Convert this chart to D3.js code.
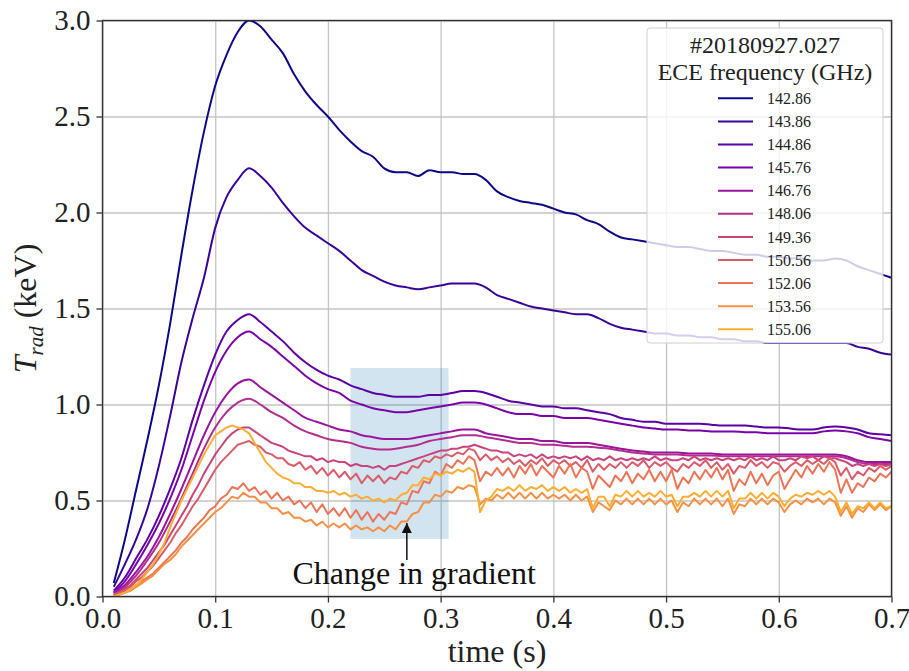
<!DOCTYPE html>
<html>
<head>
<meta charset="utf-8">
<script src="https://cdn.jsdelivr.net/npm/d3@7"></script>
<style>
  body { margin: 0; background: #fff; }
  svg { display: block; font-family: "Liberation Serif", "DejaVu Serif", serif; }
</style>
</head>
<body>
<svg id="chart" width="909" height="671"></svg>
<script>
// ECE radiation temperature traces, shot #20180927.027

const frequencies = ["142.86", "143.86", "144.86", "145.76", "146.76", "148.06",
                     "149.36", "150.56", "152.06", "153.56", "155.06"];
const xTicks = [0.0, 0.1, 0.2, 0.3, 0.4, 0.5, 0.6, 0.7];
const yTicks = [0.0, 0.5, 1.0, 1.5, 2.0, 2.5, 3.0];

// sample times: coarse grid 0.01..0.70 s, fine grid 0.010..0.700 s
const timeCoarse = d3.range(1, 71).map(k => k / 100);
const timeFine = d3.range(2, 141).map(k => k / 200);

// smoother channels, read on the coarse grid (keV)
const trad142_86 = [
  0.07, 0.30, 0.56, 0.82, 1.10, 1.42, 1.78, 2.12, 2.42, 2.66,
  2.82, 2.94, 3.00, 2.97, 2.90, 2.83, 2.72, 2.63, 2.56, 2.50,
  2.43, 2.37, 2.32, 2.29, 2.23, 2.21, 2.21, 2.19, 2.22, 2.21,
  2.21, 2.20, 2.20, 2.17, 2.11, 2.08, 2.06, 2.05, 2.04, 2.02,
  2.00, 1.99, 1.96, 1.94, 1.90, 1.87, 1.86, 1.85, 1.84, 1.83,
  1.82, 1.82, 1.81, 1.80, 1.80, 1.79, 1.78, 1.78, 1.77, 1.77,
  1.76, 1.76, 1.75, 1.75, 1.76, 1.75, 1.72, 1.70, 1.68, 1.66];
const trad143_86 = [
  0.05, 0.17, 0.30, 0.46, 0.68, 0.94, 1.22, 1.45, 1.66, 1.92,
  2.08, 2.17, 2.23, 2.19, 2.13, 2.05, 1.98, 1.92, 1.88, 1.84,
  1.80, 1.75, 1.70, 1.67, 1.64, 1.62, 1.61, 1.60, 1.61, 1.62,
  1.63, 1.63, 1.63, 1.61, 1.57, 1.55, 1.53, 1.51, 1.50, 1.49,
  1.48, 1.47, 1.47, 1.45, 1.42, 1.40, 1.39, 1.38, 1.37, 1.37,
  1.36, 1.36, 1.35, 1.35, 1.34, 1.34, 1.33, 1.33, 1.32, 1.32,
  1.32, 1.32, 1.32, 1.32, 1.32, 1.32, 1.30, 1.29, 1.27, 1.26];
const trad144_86 = [
  0.03, 0.10, 0.20, 0.30, 0.42, 0.56, 0.72, 0.92, 1.10, 1.26,
  1.38, 1.44, 1.47, 1.43, 1.38, 1.33, 1.27, 1.22, 1.18, 1.15,
  1.13, 1.10, 1.08, 1.06, 1.05, 1.04, 1.04, 1.04, 1.05, 1.05,
  1.06, 1.07, 1.07, 1.06, 1.04, 1.02, 1.01, 1.00, 0.99, 0.99,
  0.98, 0.98, 0.97, 0.96, 0.95, 0.93, 0.92, 0.91, 0.91, 0.90,
  0.90, 0.90, 0.90, 0.895, 0.89, 0.89, 0.89, 0.885, 0.88, 0.88,
  0.875, 0.87, 0.87, 0.88, 0.885, 0.88, 0.87, 0.85, 0.845, 0.84];
const trad145_76 = [
  0.02, 0.08, 0.17, 0.27, 0.38, 0.51, 0.66, 0.84, 1.02, 1.17,
  1.28, 1.35, 1.38, 1.34, 1.30, 1.25, 1.20, 1.15, 1.11, 1.08,
  1.06, 1.02, 1.00, 0.98, 0.97, 0.96, 0.96, 0.97, 0.98, 0.99,
  1.00, 1.01, 1.01, 1.00, 0.98, 0.96, 0.95, 0.95, 0.94, 0.94,
  0.93, 0.93, 0.93, 0.92, 0.91, 0.90, 0.89, 0.88, 0.875, 0.87,
  0.87, 0.865, 0.865, 0.86, 0.86, 0.86, 0.855, 0.855, 0.85, 0.85,
  0.85, 0.85, 0.85, 0.86, 0.865, 0.86, 0.85, 0.83, 0.82, 0.81];
const trad146_76 = [
  0.02, 0.06, 0.13, 0.21, 0.31, 0.43, 0.56, 0.70, 0.84, 0.96,
  1.05, 1.11, 1.13, 1.09, 1.05, 1.01, 0.97, 0.93, 0.91, 0.89,
  0.87, 0.86, 0.84, 0.83, 0.82, 0.82, 0.82, 0.83, 0.84, 0.85,
  0.86, 0.87, 0.87, 0.85, 0.84, 0.83, 0.82, 0.82, 0.81, 0.81,
  0.80, 0.80, 0.80, 0.79, 0.78, 0.77, 0.76, 0.755, 0.75, 0.75,
  0.75, 0.745, 0.745, 0.745, 0.74, 0.74, 0.74, 0.74, 0.74, 0.74,
  0.74, 0.74, 0.74, 0.74, 0.74, 0.73, 0.71, 0.70, 0.70, 0.70];
const trad148_06 = [
  0.01, 0.05, 0.11, 0.19, 0.28, 0.39, 0.51, 0.64, 0.77, 0.88,
  0.96, 1.01, 1.03, 1.00, 0.96, 0.93, 0.89, 0.86, 0.84, 0.82,
  0.81, 0.80, 0.78, 0.77, 0.765, 0.77, 0.78, 0.79, 0.81, 0.82,
  0.83, 0.84, 0.84, 0.83, 0.82, 0.81, 0.80, 0.80, 0.79, 0.79,
  0.785, 0.78, 0.78, 0.775, 0.77, 0.76, 0.75, 0.745, 0.74, 0.74,
  0.74, 0.735, 0.735, 0.735, 0.73, 0.73, 0.73, 0.73, 0.73, 0.73,
  0.73, 0.73, 0.73, 0.73, 0.73, 0.72, 0.70, 0.69, 0.69, 0.69];

// noisier channels, read on the fine grid (keV)
const trad149_36 = [
  0.01, 0.02, 0.04, 0.06, 0.09, 0.12, 0.15, 0.19, 0.23, 0.27,
  0.32, 0.37, 0.42, 0.47, 0.53, 0.58, 0.64, 0.69, 0.74, 0.78,
  0.82, 0.85, 0.87, 0.88, 0.88, 0.86, 0.84, 0.82, 0.80, 0.79,
  0.78, 0.76, 0.75, 0.74, 0.73, 0.73, 0.71, 0.72, 0.70, 0.71,
  0.70, 0.70, 0.68, 0.69, 0.68, 0.68, 0.67, 0.68, 0.66, 0.68,
  0.68, 0.69, 0.70, 0.71, 0.72, 0.73, 0.74, 0.75, 0.76, 0.76,
  0.77, 0.77, 0.78, 0.78, 0.79, 0.78, 0.77, 0.76, 0.76, 0.75,
  0.75, 0.73, 0.74, 0.73, 0.74, 0.72, 0.74, 0.72, 0.73, 0.72,
  0.73, 0.72, 0.73, 0.71, 0.73, 0.71, 0.72, 0.71, 0.73, 0.71,
  0.72, 0.71, 0.72, 0.71, 0.72, 0.71, 0.73, 0.71, 0.72, 0.71,
  0.71, 0.72, 0.71, 0.73, 0.71, 0.72, 0.71, 0.72, 0.71, 0.72,
  0.71, 0.72, 0.71, 0.73, 0.71, 0.72, 0.71, 0.73, 0.71, 0.71,
  0.72, 0.71, 0.73, 0.72, 0.73, 0.71, 0.73, 0.72, 0.72, 0.71,
  0.70, 0.68, 0.69, 0.68, 0.69, 0.68, 0.69, 0.68, 0.69];
const trad150_56 = [
  0.01, 0.02, 0.03, 0.05, 0.08, 0.10, 0.13, 0.16, 0.20, 0.24,
  0.28, 0.33, 0.37, 0.42, 0.47, 0.51, 0.56, 0.61, 0.66, 0.70,
  0.73, 0.76, 0.79, 0.80, 0.81, 0.79, 0.78, 0.75, 0.74, 0.72,
  0.72, 0.69, 0.68, 0.70, 0.66, 0.68, 0.64, 0.67, 0.63, 0.66,
  0.62, 0.65, 0.61, 0.64, 0.59, 0.63, 0.60, 0.63, 0.59, 0.62,
  0.61, 0.65, 0.64, 0.68, 0.67, 0.71, 0.70, 0.73, 0.72, 0.74,
  0.73, 0.75, 0.74, 0.77, 0.76, 0.71, 0.74, 0.71, 0.73, 0.70,
  0.72, 0.69, 0.71, 0.68, 0.71, 0.69, 0.72, 0.68, 0.71, 0.69,
  0.71, 0.68, 0.70, 0.67, 0.71, 0.65, 0.69, 0.66, 0.69, 0.67,
  0.70, 0.67, 0.70, 0.68, 0.71, 0.67, 0.70, 0.68, 0.70, 0.67,
  0.65, 0.69, 0.67, 0.70, 0.68, 0.71, 0.67, 0.70, 0.66, 0.69,
  0.64, 0.68, 0.67, 0.71, 0.68, 0.70, 0.67, 0.70, 0.69, 0.65,
  0.68, 0.70, 0.68, 0.71, 0.69, 0.71, 0.69, 0.72, 0.70, 0.63,
  0.67, 0.61, 0.65, 0.63, 0.67, 0.65, 0.68, 0.66, 0.68];
const trad152_06 = [
  0.00, 0.01, 0.02, 0.04, 0.06, 0.08, 0.10, 0.12, 0.15, 0.18,
  0.21, 0.24, 0.28, 0.31, 0.35, 0.38, 0.41, 0.45, 0.47, 0.51,
  0.53, 0.57, 0.56, 0.59, 0.55, 0.57, 0.53, 0.55, 0.51, 0.54,
  0.50, 0.52, 0.48, 0.50, 0.46, 0.49, 0.44, 0.48, 0.43, 0.46,
  0.42, 0.46, 0.41, 0.45, 0.40, 0.44, 0.39, 0.43, 0.40, 0.44,
  0.43, 0.49, 0.48, 0.55, 0.54, 0.60, 0.59, 0.65, 0.63, 0.69,
  0.67, 0.71, 0.69, 0.73, 0.71, 0.60, 0.65, 0.63, 0.67, 0.63,
  0.67, 0.62, 0.68, 0.64, 0.69, 0.63, 0.68, 0.65, 0.62, 0.68,
  0.64, 0.69, 0.62, 0.67, 0.65, 0.56, 0.63, 0.60, 0.57, 0.63,
  0.60, 0.65, 0.59, 0.64, 0.61, 0.66, 0.60, 0.65, 0.60, 0.66,
  0.56, 0.62, 0.59, 0.65, 0.61, 0.66, 0.62, 0.67, 0.61, 0.66,
  0.55, 0.61, 0.58, 0.65, 0.59, 0.64, 0.58, 0.63, 0.65, 0.56,
  0.61, 0.66, 0.62, 0.68, 0.64, 0.69, 0.65, 0.70, 0.66, 0.54,
  0.61, 0.54, 0.59, 0.57, 0.62, 0.60, 0.64, 0.62, 0.65];
const trad153_56 = [
  0.00, 0.01, 0.02, 0.03, 0.05, 0.07, 0.09, 0.11, 0.14, 0.17,
  0.19, 0.22, 0.26, 0.29, 0.32, 0.35, 0.38, 0.41, 0.44, 0.46,
  0.49, 0.52, 0.51, 0.54, 0.52, 0.52, 0.49, 0.49, 0.46, 0.46,
  0.43, 0.44, 0.41, 0.41, 0.39, 0.40, 0.37, 0.39, 0.36, 0.38,
  0.36, 0.38, 0.35, 0.37, 0.35, 0.36, 0.34, 0.36, 0.34, 0.37,
  0.35, 0.39, 0.39, 0.43, 0.44, 0.49, 0.49, 0.53, 0.52, 0.55,
  0.54, 0.57, 0.56, 0.58, 0.57, 0.48, 0.51, 0.50, 0.53, 0.51,
  0.54, 0.51, 0.54, 0.51, 0.54, 0.51, 0.54, 0.51, 0.53, 0.51,
  0.53, 0.50, 0.53, 0.50, 0.52, 0.44, 0.49, 0.47, 0.45, 0.50,
  0.48, 0.51, 0.48, 0.51, 0.48, 0.51, 0.48, 0.51, 0.48, 0.50,
  0.44, 0.49, 0.47, 0.51, 0.48, 0.51, 0.48, 0.51, 0.47, 0.51,
  0.43, 0.48, 0.47, 0.51, 0.48, 0.51, 0.48, 0.51, 0.49, 0.44,
  0.48, 0.50, 0.48, 0.51, 0.49, 0.51, 0.48, 0.51, 0.49, 0.42,
  0.47, 0.41, 0.46, 0.44, 0.48, 0.45, 0.48, 0.45, 0.47];
const trad155_06 = [
  0.00, 0.01, 0.02, 0.04, 0.06, 0.09, 0.13, 0.17, 0.22, 0.28,
  0.36, 0.43, 0.50, 0.56, 0.62, 0.68, 0.74, 0.79, 0.84, 0.86,
  0.88, 0.89, 0.88, 0.87, 0.85, 0.80, 0.75, 0.70, 0.67, 0.64,
  0.62, 0.61, 0.59, 0.59, 0.57, 0.57, 0.55, 0.55, 0.54, 0.55,
  0.53, 0.54, 0.52, 0.53, 0.51, 0.52, 0.50, 0.51, 0.49, 0.51,
  0.50, 0.53, 0.54, 0.58, 0.58, 0.62, 0.61, 0.64, 0.63, 0.65,
  0.64, 0.66, 0.65, 0.67, 0.65, 0.44, 0.50, 0.52, 0.56, 0.55,
  0.57, 0.55, 0.58, 0.55, 0.57, 0.56, 0.58, 0.55, 0.57, 0.55,
  0.57, 0.54, 0.56, 0.54, 0.56, 0.46, 0.52, 0.52, 0.47, 0.53,
  0.52, 0.55, 0.52, 0.55, 0.52, 0.54, 0.52, 0.55, 0.52, 0.53,
  0.47, 0.52, 0.52, 0.54, 0.52, 0.55, 0.52, 0.55, 0.52, 0.55,
  0.46, 0.51, 0.51, 0.54, 0.51, 0.54, 0.51, 0.54, 0.52, 0.47,
  0.51, 0.53, 0.52, 0.54, 0.53, 0.55, 0.53, 0.55, 0.52, 0.44,
  0.49, 0.43, 0.47, 0.46, 0.49, 0.46, 0.49, 0.46, 0.47];

// highlighted window and annotation (data units)
const highlightTime = [0.22, 0.307];
const highlightTrad = [0.30, 1.19];
const annotationText = "Change in gradient";
const annotationTextAt = [0.2765, 0.065];
const arrowFrom = [0.27, 0.19];
const arrowTo = [0.27, 0.383];

// ---------------------------------------------------------------
const seriesValues = [trad142_86, trad143_86, trad144_86, trad145_76, trad146_76, trad148_06,
                      trad149_36, trad150_56, trad152_06, trad153_56, trad155_06];
const series = frequencies.map((f, i) => {
  const vals = seriesValues[i];
  const coarse = vals.length === timeCoarse.length;
  const times = coarse ? timeCoarse : timeFine;
  return { freq: f, coarse: coarse, points: vals.map((v, j) => [times[j], v]) };
});

const margin = { top: 20.5, right: 17.5, bottom: 74.5, left: 102.5 };
const W = 909, H = 671;
const width = W - margin.left - margin.right;
const height = H - margin.top - margin.bottom;

const svg = d3.select("#chart");
const g = svg.append("g").attr("transform", `translate(${margin.left},${margin.top})`);

const x = d3.scaleLinear().domain([0, 0.7]).range([0, width]);
const y = d3.scaleLinear().domain([0, 3]).range([height, 0]);
const color = d3.scaleOrdinal()
  .domain(frequencies)
  .range(frequencies.map((f, i) => d3.interpolatePlasma(i / 10 * 0.82)));

// grid
g.append("g")
  .attr("transform", `translate(0,${height})`)
  .call(d3.axisBottom(x).tickValues(xTicks).tickSize(-height).tickFormat(""))
  .call(a => a.select(".domain").remove())
  .call(a => a.selectAll("line").attr("stroke", "#c4c4c4").attr("stroke-width", 1.3));
g.append("g")
  .call(d3.axisLeft(y).tickValues(yTicks).tickSize(-width).tickFormat(""))
  .call(a => a.select(".domain").remove())
  .call(a => a.selectAll("line").attr("stroke", "#c4c4c4").attr("stroke-width", 1.3));

// clip
svg.append("defs").append("clipPath").attr("id", "plotclip")
  .append("rect").attr("width", width).attr("height", height);

// highlighted window
g.append("rect")
  .attr("x", x(highlightTime[0]))
  .attr("y", y(highlightTrad[1]))
  .attr("width", x(highlightTime[1]) - x(highlightTime[0]))
  .attr("height", y(highlightTrad[0]) - y(highlightTrad[1]))
  .attr("fill", "#1f77b4")
  .attr("fill-opacity", 0.2);

// traces
const lineSmooth = d3.line().x(d => x(d[0])).y(d => y(d[1])).curve(d3.curveMonotoneX);
const lineRaw = d3.line().x(d => x(d[0])).y(d => y(d[1]));
g.append("g").attr("clip-path", "url(#plotclip)")
  .selectAll("path")
  .data(series)
  .join("path")
  .attr("d", d => (d.coarse ? lineSmooth : lineRaw)(d.points))
  .attr("fill", "none")
  .attr("stroke", d => color(d.freq))
  .attr("stroke-width", 2)
  .attr("stroke-linejoin", "round");

// axes
const xAxis = g.append("g")
  .attr("transform", `translate(0,${height})`)
  .call(d3.axisBottom(x).tickValues(xTicks).tickFormat(d3.format(".1f")).tickSize(6).tickPadding(5));
const yAxis = g.append("g")
  .call(d3.axisLeft(y).tickValues(yTicks).tickFormat(d3.format(".1f")).tickSize(6).tickPadding(6));
[xAxis, yAxis].forEach(a => {
  a.select(".domain").remove();
  a.selectAll("line").attr("stroke", "#333").attr("stroke-width", 1.3);
  a.selectAll("text").attr("fill", "#222")
    .style("font-family", "'Liberation Serif', serif").style("font-size", "29px");
});

// frame
g.append("rect")
  .attr("width", width).attr("height", height)
  .attr("fill", "none").attr("stroke", "#333").attr("stroke-width", 1.4);

// axis labels
svg.append("text")
  .attr("x", margin.left + width / 2).attr("y", 662)
  .attr("text-anchor", "middle")
  .attr("fill", "#222")
  .style("font-size", "32px")
  .text("time (s)");

const yl = svg.append("text")
  .attr("transform", `translate(36,${margin.top + height / 2}) rotate(-90)`)
  .attr("text-anchor", "middle")
  .attr("fill", "#222")
  .style("font-size", "32px");
yl.append("tspan").style("font-style", "italic").text("T");
yl.append("tspan").style("font-style", "italic").style("font-size", "21px")
  .attr("dy", 7).text("rad");
yl.append("tspan").attr("dy", -7).text(" (keV)");

// annotation
g.append("text")
  .attr("x", x(annotationTextAt[0])).attr("y", y(annotationTextAt[1]))
  .attr("text-anchor", "middle")
  .attr("fill", "#111")
  .style("font-size", "32px")
  .text(annotationText);
svg.append("defs").append("marker")
  .attr("id", "arrowhead")
  .attr("viewBox", "0 0 10 10")
  .attr("refX", 10).attr("refY", 5)
  .attr("markerWidth", 10).attr("markerHeight", 10)
  .attr("markerUnits", "userSpaceOnUse")
  .attr("orient", "auto")
  .append("path").attr("d", "M0,0 L10,5 L0,10 Z").attr("fill", "#111");
g.append("line")
  .attr("x1", x(arrowFrom[0])).attr("y1", y(arrowFrom[1]))
  .attr("x2", x(arrowTo[0])).attr("y2", y(arrowTo[1]))
  .attr("stroke", "#111").attr("stroke-width", 1.5)
  .attr("marker-end", "url(#arrowhead)");

// legend
const legend = svg.append("g").attr("transform", "translate(647,28)");
legend.append("rect")
  .attr("width", 236).attr("height", 315)
  .attr("rx", 3)
  .attr("fill", "#fff").attr("fill-opacity", 0.8)
  .attr("stroke", "#d0d0d0").attr("stroke-width", 1);
legend.append("text")
  .attr("x", 118).attr("y", 17).attr("dy", "0.35em")
  .attr("text-anchor", "middle").attr("fill", "#222")
  .style("font-size", "24px").text("#20180927.027");
legend.append("text")
  .attr("x", 118).attr("y", 44).attr("dy", "0.35em")
  .attr("text-anchor", "middle").attr("fill", "#222")
  .style("font-size", "24px").text("ECE frequency (GHz)");
const rows = legend.selectAll("g.row")
  .data(frequencies)
  .join("g")
  .attr("class", "row")
  .attr("transform", (d, i) => `translate(0,${70.3 + i * 23.1})`);
rows.append("line")
  .attr("x1", 71).attr("x2", 106)
  .attr("stroke", d => color(d)).attr("stroke-width", 2);
rows.append("text")
  .attr("x", 120).attr("dy", "0.35em")
  .attr("fill", "#222")
  .style("font-size", "16px")
  .text(d => d);
</script>
</body>
</html>
